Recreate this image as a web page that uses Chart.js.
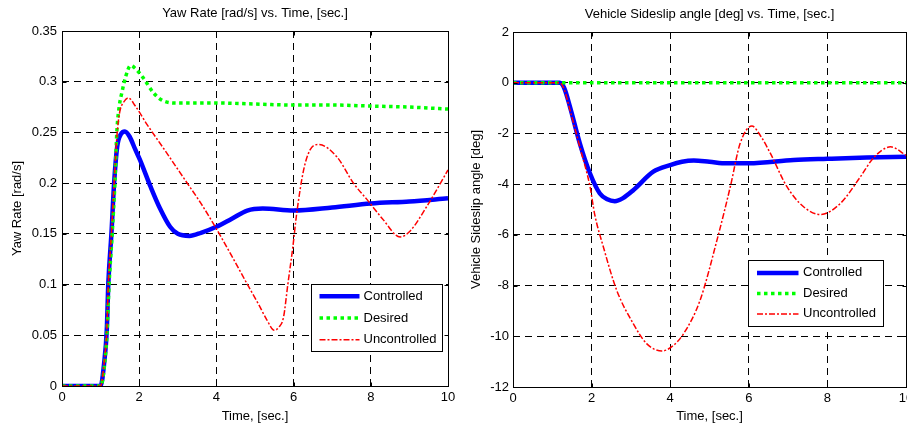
<!DOCTYPE html>
<html>
<head>
<meta charset="utf-8">
<script src="https://cdn.jsdelivr.net/npm/chart.js@4.4.1/dist/chart.umd.min.js"></script>
<style>
  html, body { margin: 0; padding: 0; background: #fff; overflow: hidden; width: 907px; height: 429px; }
  #yaw { position: absolute; left: 0; top: 0; }
  #slip { position: absolute; left: 460px; top: 0; }
</style>
</head>
<body>
<canvas id="yaw" width="460" height="429"></canvas>
<canvas id="slip" width="460" height="429"></canvas>
<script>
/* ---- Datos ---- */
const seriesNames = ['Controlled', 'Desired', 'Uncontrolled'];
const timeTicks = [0, 2, 4, 6, 8, 10];
const yawTicks = [0, 0.05, 0.1, 0.15, 0.2, 0.25, 0.3, 0.35];
const slipTicks = [-12, -10, -8, -6, -4, -2, 0, 2];

// Yaw rate [rad/s]
const yawCtrlT = [0, 1.0, 1.09, 1.16, 1.2, 1.28, 1.35, 1.43, 1.52, 1.63, 1.75, 1.9, 2.02, 2.3, 2.54, 2.8, 3.0, 3.3, 3.6, 4.0, 4.4, 4.8, 5.2, 6.0, 7.0, 8.0, 9.0, 10];
const yawCtrl  = [0, 0, 0.022, 0.055, 0.101, 0.15, 0.2, 0.236, 0.248, 0.251, 0.246, 0.233, 0.223, 0.196, 0.175, 0.157, 0.15, 0.148, 0.151, 0.157, 0.165, 0.173, 0.175, 0.173, 0.176, 0.18, 0.182, 0.185];
const yawDesT  = [0, 1.0, 1.1, 1.17, 1.22, 1.3, 1.37, 1.42, 1.48, 1.55, 1.65, 1.78, 1.9, 2.1, 2.37, 2.63, 3.0, 4.0, 5.0, 6.0, 7.0, 8.0, 9.0, 10];
const yawDes   = [0, 0, 0.02, 0.055, 0.1, 0.15, 0.2, 0.25, 0.275, 0.289, 0.305, 0.316, 0.313, 0.304, 0.289, 0.281, 0.279, 0.279, 0.278, 0.277, 0.277, 0.276, 0.275, 0.273];
const yawUncT  = [0, 1.0, 1.09, 1.16, 1.2, 1.28, 1.35, 1.42, 1.49, 1.6, 1.72, 1.9, 2.2, 2.6, 3.19, 3.6, 3.97, 4.4, 4.79, 5.1, 5.31, 5.5, 5.62, 5.74, 5.85, 5.98, 6.08, 6.26, 6.43, 6.65, 7.12, 7.55, 7.94, 8.3, 8.76, 9.0, 9.45, 10];
const yawUnc   = [0, 0, 0.022, 0.055, 0.1, 0.15, 0.2, 0.245, 0.269, 0.28, 0.284, 0.276, 0.258, 0.236, 0.203, 0.18, 0.157, 0.128, 0.101, 0.08, 0.065, 0.055, 0.058, 0.068, 0.1, 0.137, 0.17, 0.213, 0.233, 0.238, 0.226, 0.2, 0.182, 0.165, 0.147, 0.152, 0.177, 0.213];

// Sideslip angle [deg]
const slipCtrlT = [0, 1.19, 1.3, 1.45, 1.7, 1.96, 2.21, 2.4, 2.59, 2.8, 3.06, 3.57, 4.0, 4.3, 4.6, 5.0, 5.44, 6.0, 7.14, 8.0, 9.0, 10];
const slipCtrl  = [0, 0, -0.2, -0.95, -2.39, -3.58, -4.37, -4.6, -4.67, -4.55, -4.24, -3.51, -3.25, -3.12, -3.07, -3.12, -3.18, -3.18, -3.05, -3.0, -2.95, -2.92];
const slipDesT  = [0, 10];
const slipDes   = [0, 0];
const slipUncT  = [0, 1.19, 1.3, 1.45, 1.7, 1.96, 2.08, 2.3, 2.64, 3.06, 3.4, 3.79, 4.05, 4.34, 4.76, 5.19, 5.53, 5.78, 6.08, 6.3, 6.55, 6.97, 7.4, 7.82, 8.33, 8.84, 9.18, 9.61, 10];
const slipUnc   = [0, 0, -0.25, -1.08, -2.53, -4.1, -5.2, -6.48, -8.19, -9.5, -10.29, -10.58, -10.4, -9.9, -8.58, -6.21, -4.1, -2.39, -1.71, -2.1, -2.79, -4.1, -4.9, -5.2, -4.76, -3.71, -2.95, -2.53, -2.86];

/* ---- Helpers ---- */
const pts = (t, v) => t.map((x, i) => ({ x, y: v[i] }));
const FONT = '"Liberation Sans", Arial, sans-serif';
Chart.defaults.font.family = FONT;
Chart.defaults.font.size = 13;
Chart.defaults.color = '#000';

const styles = [
  { borderColor: '#0000ff', borderWidth: 4.5, borderDash: [], order: 3 },
  { borderColor: '#00ff00', borderWidth: 3.5, borderDash: [3.5, 3.5], order: 2 },
  { borderColor: '#ff0000', borderWidth: 1.5, borderDash: [6, 2, 2, 2], order: 1 },
];

const makeSets = series => series.map((d, i) => ({
  label: seriesNames[i], data: d, ...styles[i],
  pointRadius: 0, fill: false, cubicInterpolationMode: 'monotone',
}));

/* ---- Marco tipo MATLAB con marcas hacia adentro ---- */
const axesBox = {
  id: 'axesBox',
  afterDatasetsDraw(chart) {
    const { ctx, chartArea: a, scales: { x, y } } = chart;
    ctx.save();
    ctx.strokeStyle = '#000'; ctx.lineWidth = 1; ctx.setLineDash([]);
    const l = Math.round(a.left) + 0.5, t = Math.round(a.top) + 0.5;
    const r = Math.round(a.right) + 0.5, b = Math.round(a.bottom) + 0.5;
    ctx.strokeRect(l, t, r - l, b - t);
    ctx.beginPath();
    x.ticks.forEach(tk => {
      const p = Math.round(x.getPixelForValue(tk.value)) + 0.5;
      ctx.moveTo(p, b); ctx.lineTo(p, b - 4);
      ctx.moveTo(p, t); ctx.lineTo(p, t + 4);
    });
    y.ticks.forEach(tk => {
      const p = Math.round(y.getPixelForValue(tk.value)) + 0.5;
      ctx.moveTo(l, p); ctx.lineTo(l + 4, p);
      ctx.moveTo(r, p); ctx.lineTo(r - 4, p);
    });
    ctx.stroke();
    ctx.restore();
  }
};

/* ---- Leyenda con recuadro ---- */
const boxLegend = {
  id: 'boxLegend',
  afterDraw(chart, args, o) {
    const { ctx, chartArea: a } = chart;
    const x = Math.round(a.left + o.dx) + 0.5, y = Math.round(a.top + o.dy) + 0.5;
    ctx.save();
    ctx.fillStyle = '#fff'; ctx.fillRect(x, y, o.w, o.h);
    ctx.strokeStyle = '#000'; ctx.lineWidth = 1; ctx.strokeRect(x, y, o.w, o.h);
    chart.data.datasets.forEach((ds, i) => {
      const ly = y + o.row0 + i * o.gap;
      ctx.beginPath();
      ctx.setLineDash(ds.borderDash || []);
      ctx.lineWidth = ds.borderWidth; ctx.strokeStyle = ds.borderColor;
      ctx.moveTo(x + o.l0, ly); ctx.lineTo(x + o.l1, ly); ctx.stroke();
      ctx.setLineDash([]);
      ctx.fillStyle = '#000'; ctx.font = '13px ' + FONT; ctx.textBaseline = 'middle';
      ctx.fillText(ds.label, x + o.tx, ly);
    });
    ctx.restore();
  }
};

function makeChart(el, cfg) {
  return new Chart(el, {
    type: 'line',
    data: { datasets: makeSets(cfg.series) },
    plugins: [axesBox, boxLegend],
    options: {
      responsive: false, animation: false,
      layout: { padding: { left: 0, right: cfg.padRight, top: 0, bottom: 0 } },
      plugins: {
        legend: { display: false },
        tooltip: { enabled: false },
        title: {
          display: true, text: cfg.title, fullSize: false, color: '#000',
          font: { size: 13, weight: 'normal' }, padding: cfg.titlePad,
        },
        boxLegend: cfg.legend,
      },
      scales: {
        x: {
          type: 'linear', min: 0, max: 10,
          afterBuildTicks: s => { s.ticks = timeTicks.map(v => ({ value: v })); },
          afterFit: s => { s.height = cfg.xHeight; },
          grid: { color: '#000', lineWidth: 1, drawTicks: false },
          border: { display: false, dash: [7, 5] },
          ticks: { padding: 4, maxRotation: 0, color: '#000' },
          title: { display: true, text: 'Time, [sec.]', color: '#000', padding: { top: 0, bottom: 5 } },
        },
        y: {
          type: 'linear', min: cfg.yTicks[0], max: cfg.yTicks[cfg.yTicks.length - 1],
          afterBuildTicks: s => { s.ticks = cfg.yTicks.map(v => ({ value: v })); },
          afterFit: s => { s.width = cfg.yWidth; },
          grid: { color: '#000', lineWidth: 1, drawTicks: false },
          border: { display: false, dash: [7, 5] },
          ticks: { padding: cfg.yPad, color: '#000', callback: v => String(+v.toFixed(2)) },
          title: { display: true, text: cfg.yTitle, color: '#000', padding: { top: cfg.yTitlePad, bottom: 0 } },
        },
      },
    },
  });
}

makeChart(document.getElementById('yaw'), {
  title: 'Yaw Rate [rad/s] vs. Time, [sec.]',
  yTitle: 'Yaw Rate [rad/s]',
  series: [pts(yawCtrlT, yawCtrl), pts(yawDesT, yawDes), pts(yawUncT, yawUnc)],
  yTicks: yawTicks,
  padRight: 12, xHeight: 43, yWidth: 62, yPad: 5, yTitlePad: 10,
  titlePad: { top: 6, bottom: 9.4 },
  legend: { dx: 248.5, dy: 253, w: 131, h: 67, row0: 11.7, gap: 21.8, l0: 8, l1: 48, tx: 52 },
});

makeChart(document.getElementById('slip'), {
  title: 'Vehicle Sideslip angle [deg] vs. Time, [sec.]',
  yTitle: 'Vehicle Sideslip angle [deg]',
  series: [pts(slipCtrlT, slipCtrl), pts(slipDesT, slipDes), pts(slipUncT, slipUnc)],
  yTicks: slipTicks,
  padRight: 14, xHeight: 42, yWidth: 53, yPad: 4, yTitlePad: 9,
  titlePad: { top: 7, bottom: 9.4 },
  legend: { dx: 234.5, dy: 227.5, w: 135, h: 66, row0: 12.4, gap: 20.5, l0: 8.5, l1: 50, tx: 54.5 },
});
</script>
</body>
</html>
